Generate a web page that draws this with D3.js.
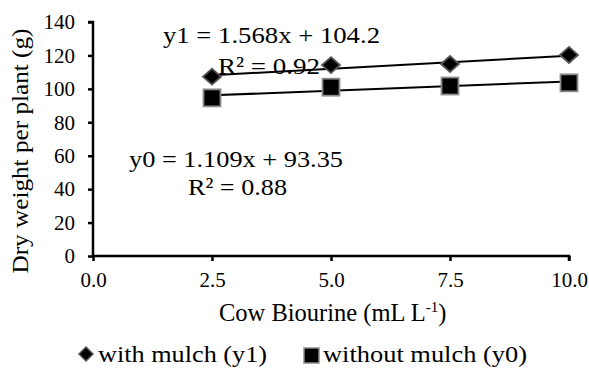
<!DOCTYPE html>
<html><head><meta charset="utf-8">
<script src="https://cdn.jsdelivr.net/npm/d3@7"></script>
<style>body{margin:0;background:#fff}svg{display:block}</style>
</head><body><svg id="c" width="589" height="368"></svg>
<script>
const xValues = [2.5, 5.0, 7.5, 10.0];
const withMulch = [107.3, 114.2, 114.9, 120.3];
const withoutMulch = [94.6, 101.0, 101.7, 103.6];
const xTicks = [0, 2.5, 5, 7.5, 10];
const yTicks = [0, 20, 40, 60, 80, 100, 120, 140];
const fit1 = {slope: 1.568, intercept: 104.2};
const fit0 = {slope: 1.109, intercept: 93.35};

const FONT = "Liberation Serif";
const svg = d3.select("#c");
const x = d3.scaleLinear().domain([0, 10]).range([93, 569]);
const y = d3.scaleLinear().domain([0, 140]).range([256, 22]);

const xa = svg.append("g").attr("transform", "translate(0,256)")
  .call(d3.axisBottom(x).tickValues(xTicks).tickFormat(d3.format(".1f")).tickSize(5).tickPadding(11));
const ya = svg.append("g").attr("transform", "translate(93,0)")
  .call(d3.axisLeft(y).tickValues(yTicks).tickSize(5).tickPadding(13));
[xa, ya].forEach(a => {
  a.attr("font-family", null).attr("font-size", null);
  a.select(".domain").attr("stroke", "#000").attr("stroke-width", 2.5);
  a.selectAll(".tick line").attr("stroke", "#000").attr("stroke-width", 2.5);
  a.selectAll("text").style("font-family", FONT).style("font-size", "21px").attr("fill", "#000");
});
xa.selectAll("text").attr("dy", "0.71em");
xa.select(".domain").attr("d", "M93,0H569V5");
ya.select(".domain").attr("d", "M-5,22H0V256");

// trend lines
const line = d3.line().x(d => x(d[0])).y(d => y(d[1]));
[fit1, fit0].forEach(f => {
  svg.append("path").attr("d", line([[2.5, f.slope*2.5+f.intercept],[10, f.slope*10+f.intercept]]))
    .attr("stroke", "#000").attr("stroke-width", 2).attr("fill", "none");
});

// markers
const diamondPath = (w, h) => `M0,${-h/2}L${w/2},0L0,${h/2}L${-w/2},0Z`;
svg.selectAll(".d").data(xValues.map((v,i)=>[v, withMulch[i]])).join("path")
  .attr("transform", d => `translate(${x(d[0])},${y(d[1])})`)
  .attr("d", diamondPath(18, 16))
  .attr("fill", "#000").attr("stroke", "#555").attr("stroke-width", 1.8);
svg.selectAll(".s").data(xValues.map((v,i)=>[v, withoutMulch[i]])).join("rect")
  .attr("x", d => x(d[0]) - 8.5).attr("y", d => y(d[1]) - 8.5)
  .attr("width", 17).attr("height", 17)
  .attr("fill", "#000").attr("stroke", "#8a8a8a").attr("stroke-width", 1.8);

// equations
const eq = [
  {t: "y1 = 1.568x + 104.2", x: 163, y: 43, w: 217},
  {t: "R² = 0.92", x: 218, y: 74, w: 102},
  {t: "y0 = 1.109x + 93.35", x: 129, y: 167, w: 214},
  {t: "R² = 0.88", x: 188, y: 195, w: 99}
];
svg.selectAll(".eq").data(eq).join("text")
  .attr("x", d => d.x).attr("y", d => d.y)
  .attr("textLength", d => d.w).attr("lengthAdjust", "spacingAndGlyphs")
  .style("font-family", FONT).style("font-size", "24px").attr("fill", "#000").text(d => d.t);

// axis titles
svg.append("text").attr("transform", "translate(28,151) rotate(-90)").attr("text-anchor", "middle")
  .attr("textLength", 245).attr("lengthAdjust", "spacingAndGlyphs")
  .style("font-family", FONT).style("font-size", "24px").attr("fill", "#000").text("Dry weight per plant (g)");
const xt = svg.append("text").attr("x", 219).attr("y", 321)
  .style("font-family", FONT).style("font-size", "24.5px").attr("fill", "#000");
xt.append("tspan").text("Cow Biourine (mL L");
xt.append("tspan").attr("dy", -9).style("font-size", "15px").text("-1");
xt.append("tspan").attr("dy", 9).text(")");

// legend
const lg = svg.append("g");
lg.append("path").attr("transform", "translate(86,354)")
  .attr("d", diamondPath(14, 14))
  .attr("fill", "#000").attr("stroke", "#555").attr("stroke-width", 1.5);
lg.append("text").attr("x", 98).attr("y", 362).attr("textLength", 169).attr("lengthAdjust", "spacingAndGlyphs")
  .style("font-family", FONT).style("font-size", "24px").attr("fill", "#000").text("with mulch (y1)");
lg.append("rect").attr("x", 304).attr("y", 348).attr("width", 15).attr("height", 15)
  .attr("fill", "#000").attr("stroke", "#8a8a8a").attr("stroke-width", 1.5);
lg.append("text").attr("x", 323).attr("y", 362).attr("textLength", 204).attr("lengthAdjust", "spacingAndGlyphs")
  .style("font-family", FONT).style("font-size", "24px").attr("fill", "#000").text("without mulch (y0)");
</script></body></html>
